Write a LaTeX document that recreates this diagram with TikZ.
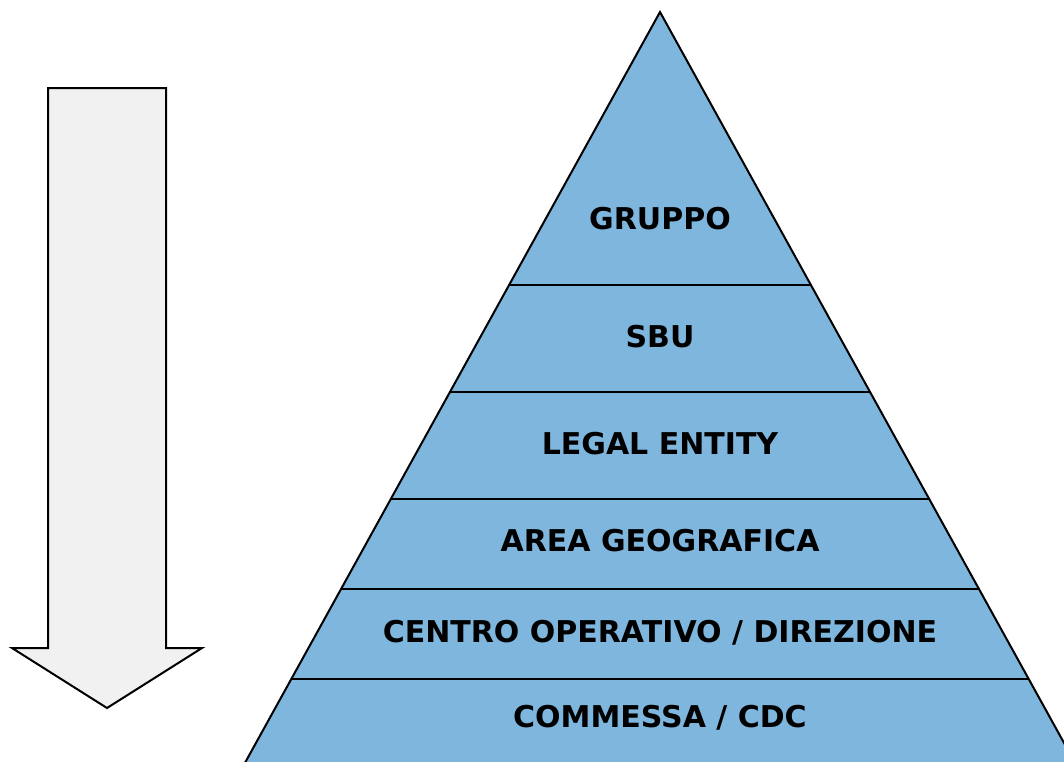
\documentclass[tikz,border=0pt]{standalone}
\usepackage{fontspec}
\setmainfont{DejaVu Sans}
\usetikzlibrary{calc}
\definecolor{layerblue}{RGB}{127,182,221}
\definecolor{arrowgrey}{RGB}{241,241,241}
\tikzset{
    layer/.style={font=\bfseries\fontsize{30}{33}\selectfont, text=black},
    edge/.style={line width=2pt}
}
\begin{document}
\begin{tikzpicture}[x=1pt, y=-1pt]
    \useasboundingbox (0,0) rectangle (1064,761);
    \clip (0,0) rectangle (1064,761);
    % Arrow
    \filldraw[arrowgrey, draw=black, edge, line join=miter]
        (48,88) -- (166,88) -- (166,648) -- (202,648) -- (107,708)
        -- (12,648) -- (48,648) -- cycle;
    % Pyramid
    \coordinate (apex) at (660,12);
    \coordinate (bl) at (241,770);
    \coordinate (br) at (1079,770);
    \filldraw[layerblue, draw=black, edge] (apex) -- (br) -- (bl) -- cycle;
    % Layer borders
    \foreach \t in {0.3602, 0.5013, 0.6425, 0.7612, 0.8799}
        \draw[edge] ($(apex)!\t!(bl)$) -- ($(apex)!\t!(br)$);
    % Labels
    \node[layer] (gruppo) at (660,219) {GRUPPO};
    \node[layer] (sbu) at (660,337) {SBU};
    \node[layer] (legal) at (660,444) {LEGAL ENTITY};
    \node[layer] (area) at (660,541) {AREA GEOGRAFICA};
    \node[layer] (centro) at (660,633) {CENTRO OPERATIVO / DIREZIONE};
    \node[layer] (commessa) at (660,718) {COMMESSA / CDC};
\end{tikzpicture}
\end{document}
